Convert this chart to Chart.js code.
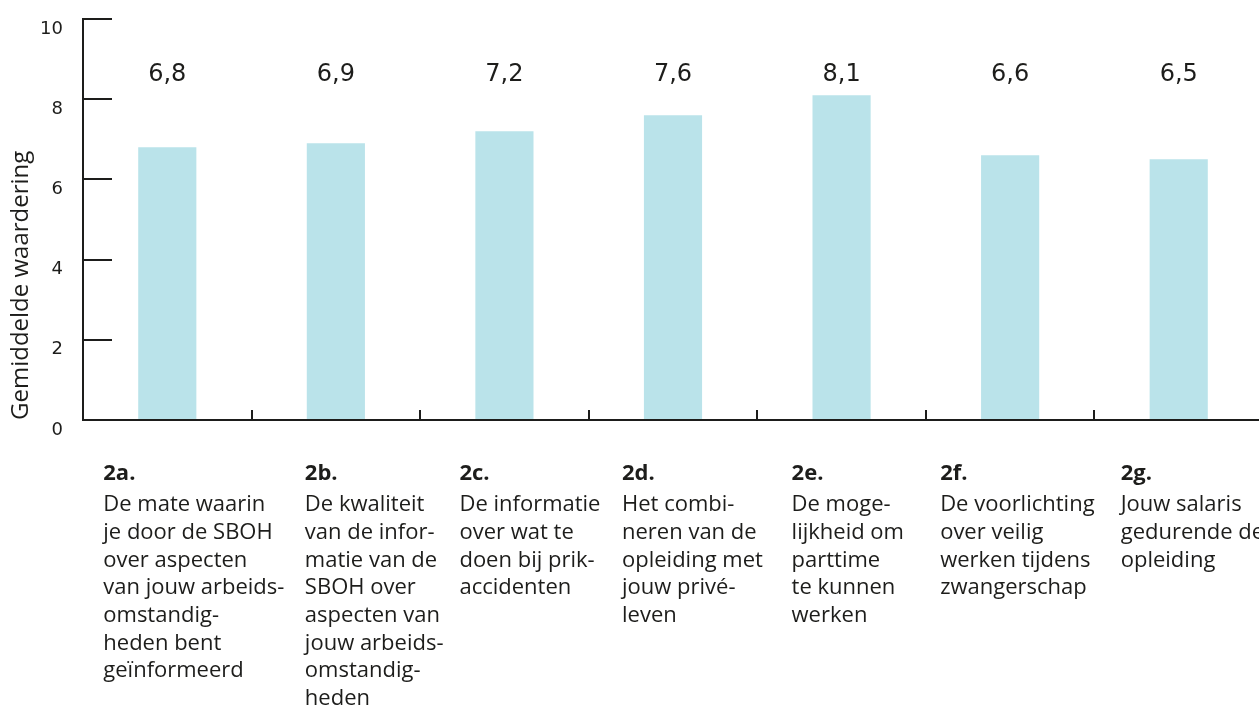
<!DOCTYPE html>
<html>
<head>
<meta charset="utf-8">
<script src="https://cdn.jsdelivr.net/npm/chart.js@4/dist/chart.umd.min.js"></script>
<style>
  html, body { margin: 0; padding: 0; background: #ffffff; overflow: hidden; }
  #wrap { width: 1259px; height: 715px; overflow: hidden; position: relative; }
  canvas { display: block; }
</style>
</head>
<body>
<div id="wrap"><canvas id="c" width="1270" height="715"></canvas></div>
<script>
// ---- data ----
const codes = ["2a.", "2b.", "2c.", "2d.", "2e.", "2f.", "2g."];
const descriptions = [
  ["De mate waarin", "je door de SBOH", "over aspecten", "van jouw arbeids-", "omstandig-", "heden bent", "geïnformeerd"],
  ["De kwaliteit", "van de infor-", "matie van de", "SBOH over", "aspecten van", "jouw arbeids-", "omstandig-", "heden"],
  ["De informatie", "over wat te", "doen bij prik-", "accidenten"],
  ["Het combi-", "neren van de", "opleiding met", "jouw privé-", "leven"],
  ["De moge-", "lijkheid om", "parttime", "te kunnen", "werken"],
  ["De voorlichting", "over veilig", "werken tijdens", "zwangerschap"],
  ["Jouw salaris", "gedurende de", "opleiding"]
];
const values = [6.8, 6.9, 7.2, 7.6, 8.1, 6.6, 6.5];
const valueLabels = ["6,8", "6,9", "7,2", "7,6", "8,1", "6,6", "6,5"];
const yTicks = [0, 2, 4, 6, 8, 10];
const yTitle = "Gemiddelde waardering";

// ---- layout (not data) ----
const labelShift = [-64, -31, -45, -51, -50, -70, -58];
const INK = "#1d1d1b";

const decorations = {
  id: "decorations",
  afterDraw(chart) {
    const ctx = chart.ctx;
    const x = chart.scales.x, y = chart.scales.y;
    const area = chart.chartArea;
    ctx.save();
    ctx.strokeStyle = INK;
    ctx.lineWidth = 2;
    // y tick marks pointing inward
    yTicks.forEach(v => {
      const py = Math.round(y.getPixelForValue(v));
      ctx.beginPath();
      ctx.moveTo(area.left, py);
      ctx.lineTo(area.left + 29, py);
      ctx.stroke();
    });
    // x axis line
    ctx.beginPath();
    ctx.moveTo(area.left - 1, area.bottom);
    ctx.lineTo(area.right + 10, area.bottom);
    ctx.stroke();
    // y axis line
    ctx.beginPath();
    ctx.moveTo(area.left, area.top - 1);
    ctx.lineTo(area.left, area.bottom + 1);
    ctx.stroke();
    // x tick marks at category boundaries, pointing up
    for (let i = 1; i < codes.length; i++) {
      const px = Math.round((x.getPixelForValue(i - 1) + x.getPixelForValue(i)) / 2);
      ctx.beginPath();
      ctx.moveTo(px, area.bottom);
      ctx.lineTo(px, area.bottom - 10);
      ctx.stroke();
    }
    // value labels above bars
    const meta = chart.getDatasetMeta(0);
    ctx.fillStyle = INK;
    ctx.font = "24px 'DejaVu Sans'";
    ctx.textAlign = "center";
    ctx.textBaseline = "middle";
    const labelY = y.getPixelForValue(8.6);
    meta.data.forEach((bar, i) => {
      ctx.fillText(valueLabels[i], bar.x, labelY);
    });
    // category labels
    ctx.textAlign = "left";
    ctx.textBaseline = "middle";
    meta.data.forEach((bar, i) => {
      const lx = bar.x + labelShift[i];
      ctx.font = "bold 22px 'Open Sans'";
      ctx.fillText(codes[i], lx, area.bottom + 54);
      ctx.font = "22px 'Open Sans'";
      descriptions[i].forEach((line, j) => {
        ctx.fillText(line, lx, area.bottom + 85 + j * 27.7);
      });
    });
    ctx.restore();
  }
};

new Chart(document.getElementById("c"), {
  type: "bar",
  data: {
    labels: codes,
    datasets: [{
      data: values,
      backgroundColor: "#bae3ea",
      borderWidth: 0,
      categoryPercentage: 1,
      barPercentage: 0.345
    }]
  },
  options: {
    responsive: false,
    animation: false,
    devicePixelRatio: 1,
    layout: { padding: { left: 0, top: 19, right: 7, bottom: 295 } },
    plugins: { legend: { display: false }, tooltip: { enabled: false } },
    scales: {
      x: {
        display: true,
        grid: { display: false, drawTicks: false },
        border: { display: false },
        ticks: { display: false },
        afterFit(scale) { scale.height = 0; scale.paddingLeft = 0; scale.paddingRight = 0; }
      },
      y: {
        min: 0,
        max: 10,
        afterBuildTicks(scale) { scale.ticks = yTicks.map(v => ({ value: v })); },
        grid: { display: false, drawTicks: false },
        border: { display: false },
        ticks: {
          padding: 20,
          labelOffset: 10,
          color: INK,
          font: { family: "'DejaVu Sans'", size: 18 },
          callback: v => String(v)
        },
        title: {
          display: true,
          text: yTitle,
          align: "start",
          color: INK,
          font: { family: "'Open Sans'", size: 24 },
          padding: { top: 7, bottom: 0 }
        },
        afterFit(scale) { scale.width = 83; scale.paddingTop = 0; scale.paddingBottom = 0; }
      }
    }
  },
  plugins: [decorations]
});
</script>
</body>
</html>
